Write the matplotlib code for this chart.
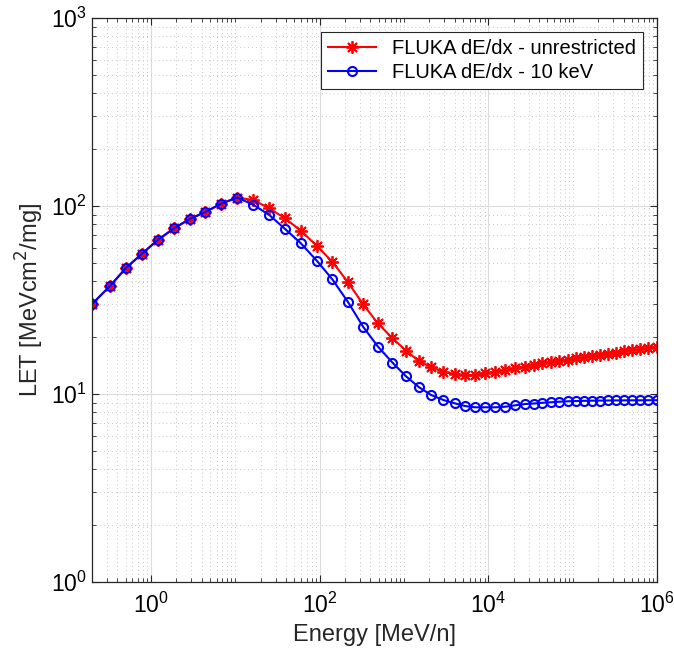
import matplotlib
matplotlib.use("Agg")
import matplotlib.pyplot as plt
from matplotlib.ticker import LogLocator, FixedLocator, NullFormatter

plt.rcParams['font.family'] = ['Liberation Sans', 'DejaVu Sans']

# energy grid [MeV/n]
energy = [0.2, 0.326, 0.505, 0.776, 1.2, 1.87, 2.88, 4.41, 6.82, 10.5,
          16.4, 25.3, 38.9, 59.7, 92.4, 141, 215, 327, 489, 728,
          1060, 1490, 2096, 2932, 3963, 5309, 6970, 9160, 12050, 15820, 20790, 27330,
          34450, 43450, 54800, 69150, 87250, 110100, 136900, 170300,
          211800, 263500, 328000, 408000, 508000, 631000, 786000, 1000000]

# stopping power, no delta-ray cut
let_unrestricted = [30.1, 37.5, 46.8, 55.6, 65.9, 76.1, 85.3, 93.0, 103, 111,
                    107.6, 97.2, 86.0, 73.9, 61.5, 50.5, 39.5, 30.0, 23.8, 19.8,
                    17.0, 15.0, 13.9, 13.1, 12.8, 12.6, 12.6, 12.9, 13.1, 13.4, 13.7, 14.0,
                    14.35, 14.56, 14.79, 15.02, 15.25, 15.49, 15.70, 15.93,
                    16.15, 16.38, 16.62, 16.85, 17.08, 17.33, 17.57, 17.83]

# restricted stopping power, 10 keV cut
let_10kev = [30.1, 37.5, 46.8, 55.6, 65.9, 76.1, 85.3, 93.0, 103, 111,
             101.5, 89.6, 75.5, 63.4, 51.2, 40.8, 31.0, 22.8, 17.9, 14.7,
             12.4, 10.9, 9.88, 9.29, 8.93, 8.63, 8.50, 8.50, 8.50, 8.56, 8.71, 8.85,
             8.90, 8.98, 9.04, 9.10, 9.15, 9.18, 9.20, 9.22,
             9.23, 9.24, 9.25, 9.25, 9.26, 9.26, 9.27, 9.27]

x_ticks = [1, 1e2, 1e4, 1e6]

fig = plt.figure(figsize=(6.74, 6.58), dpi=100)
ax = fig.add_axes([0.1365, 0.1155, 0.8385, 0.857])

# asterisk marker: 8 arms like a plus over a cross
ax.loglog(energy, let_unrestricted, '-', marker=(8, 2, 0), color='red', lw=1.5,
          ms=9, mew=1.3, label='FLUKA dE/dx - unrestricted')
ax.loglog(energy, let_10kev, '-o', color='blue', lw=1.5, ms=6.5,
          mew=1.5, mfc='none', label='FLUKA dE/dx - 10 keV')

ax.set_xlim(0.2, 1e6)
ax.set_ylim(1, 1e3)
ax.xaxis.set_major_locator(FixedLocator(x_ticks))
ax.xaxis.set_minor_locator(LogLocator(base=10, subs=range(1, 10), numticks=20))
ax.xaxis.set_minor_formatter(NullFormatter())

ax.grid(True, which='major', color='#dcdcdc', lw=0.8, ls='-')
ax.grid(True, which='minor', color='#c8c8c8', lw=0.7, ls=(0, (1, 3)))
ax.set_axisbelow(True)

ax.tick_params(which='both', direction='in', top=True, right=True,
               labelsize=16.5, color='#262626')
ax.tick_params(which='major', length=5, width=0.8)
ax.tick_params(which='minor', length=3, width=0.6)
ax.tick_params(axis='x', pad=8)
for s in ax.spines.values():
    s.set_color('#262626')
    s.set_linewidth(0.9)

ax.set_xlabel('Energy [MeV/n]', fontsize=17, color='#262626')
ax.set_ylabel('LET [MeVcm$^2$/mg]', fontsize=17, color='#262626')

leg = ax.legend(loc='upper right', fontsize=14.5, fancybox=False,
                edgecolor='#262626', framealpha=1, borderaxespad=0.7,
                handlelength=2.4, borderpad=0.35, labelspacing=0.25)
leg.get_frame().set_linewidth(0.8)

fig.savefig('out.png', dpi=100)
